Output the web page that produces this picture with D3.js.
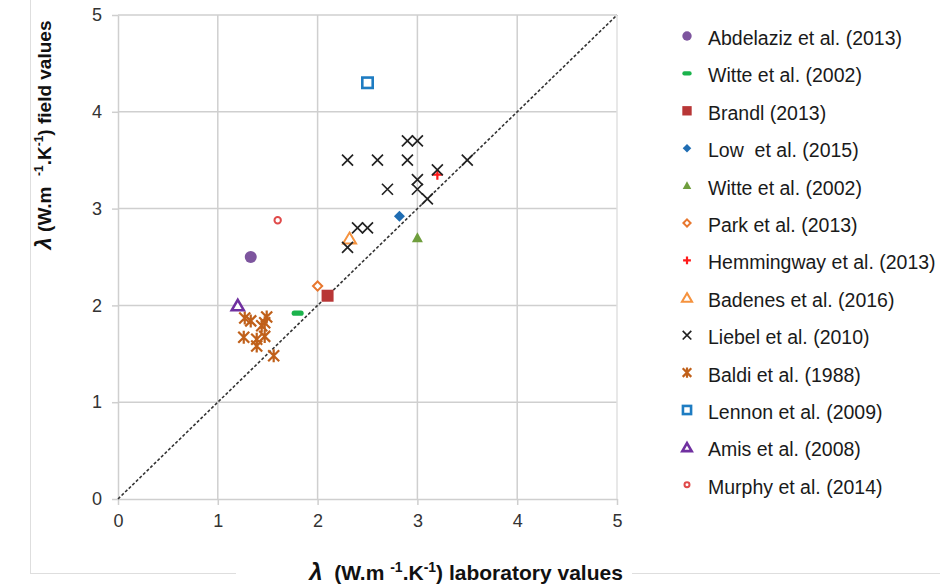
<!DOCTYPE html>
<html>
<head>
<meta charset="utf-8">
<script src="https://cdn.jsdelivr.net/npm/d3@7"></script>
<style>
  body { margin: 0; background: #fff; }
  text { font-family: "Liberation Sans", Arial, sans-serif; }
</style>
</head>
<body>
<div id="chart"></div>
<script>
// study names, in legend order
const seriesNames = [
    "Abdelaziz et al. (2013)", "Witte et al. (2002)", "Brandl (2013)", "Low  et al. (2015)",
    "Witte et al. (2002)", "Park et al. (2013)", "Hemmingway et al. (2013)", "Badenes et al. (2016)",
    "Liebel et al. (2010)", "Baldi et al. (1988)", "Lennon et al. (2009)", "Amis et al. (2008)",
    "Murphy et al. (2014)"
];

// [laboratory, field] pairs
const abdelaziz = [[1.33, 2.5]];
const witteA = [[1.8, 1.92]];
const brandl = [[2.1, 2.1]];
const low = [[2.82, 2.92]];
const witteB = [[3.0, 2.7]];
const park = [[2.0, 2.2]];
const hemmingway = [[3.2, 3.35]];
const badenes = [[2.32, 2.69]];
const liebel = [[2.3, 3.5], [2.6, 3.5], [2.9, 3.5], [3.5, 3.5], [2.9, 3.7], [3.0, 3.7], [3.2, 3.4],
    [3.0, 3.3], [3.0, 3.2], [2.7, 3.2], [3.1, 3.1], [2.4, 2.8], [2.5, 2.8], [2.3, 2.6]];
const baldi = [[1.27, 1.87], [1.33, 1.84], [1.49, 1.88], [1.44, 1.79], [1.47, 1.82], [1.26, 1.67],
    [1.39, 1.65], [1.47, 1.68], [1.39, 1.58], [1.56, 1.48]];
const lennon = [[2.5, 4.3]];
const amis = [[1.2, 2.0]];
const murphy = [[1.6, 2.88]];

const xTicks = [0, 1, 2, 3, 4, 5];
const yTicks = [0, 1, 2, 3, 4, 5];

const seriesData = [abdelaziz, witteA, brandl, low, witteB, park, hemmingway, badenes,
    liebel, baldi, lennon, amis, murphy];
const markerTypes = ["circle", "dash", "square", "diamond", "triangle", "diamondOpen", "plus",
    "triangleOpen", "x", "asterisk", "squareOpen", "triangleOpenThick", "circleOpen"];
const markerColors = ["#7d559e", "#1bb34c", "#b83636", "#1f6db3", "#6f9e3d", "#e8772e", "#ff1a1a",
    "#f5923e", "#222222", "#c0601a", "#1e7cc2", "#7030a0", "#e04a4a"];

const width = 940, height = 586;
const svg = d3.select("#chart").append("svg")
    .attr("width", width)
    .attr("height", height);

// faint frame left over from the screenshot
svg.append("line").attr("x1", 30.5).attr("x2", 30.5).attr("y1", 0).attr("y2", 574)
    .attr("stroke", "#dedede");
svg.append("line").attr("x1", 30.5).attr("x2", width).attr("y1", 573.5).attr("y2", 573.5)
    .attr("stroke", "#dedede");
svg.append("rect").attr("x", 236).attr("y", 556).attr("width", 396).attr("height", 30)
    .attr("fill", "#fff");

const x = d3.scaleLinear().domain([0, 5]).range([118, 617]);
const y = d3.scaleLinear().domain([0, 5]).range([499, 15]);

const gridColor = "#cfcfcf";

// grid
svg.append("g").selectAll("line")
    .data(yTicks.slice(1))
    .enter().append("line")
    .attr("x1", x(0)).attr("x2", x(5))
    .attr("y1", d => y(d)).attr("y2", d => y(d))
    .attr("stroke", gridColor).attr("stroke-width", 1.5);
svg.append("g").selectAll("line")
    .data(xTicks.slice(1))
    .enter().append("line")
    .attr("x1", d => x(d)).attr("x2", d => x(d))
    .attr("y1", y(0)).attr("y2", y(5))
    .attr("stroke", d => d === 5 ? "#e0e0e0" : gridColor).attr("stroke-width", 1.5);

// axes
const xAxis = svg.append("g")
    .attr("transform", `translate(0,${y(0)})`)
    .call(d3.axisBottom(x).tickValues(xTicks).tickFormat(d3.format("d"))
        .tickSize(6).tickSizeOuter(0).tickPadding(9));
const yAxis = svg.append("g")
    .attr("transform", `translate(${x(0)},0)`)
    .call(d3.axisLeft(y).tickValues(yTicks).tickFormat(d3.format("d"))
        .tickSize(6).tickSizeOuter(0).tickPadding(10));

[xAxis, yAxis].forEach(a => {
    a.select(".domain").attr("stroke", gridColor).attr("stroke-width", 1.5);
    a.selectAll(".tick line").attr("stroke", gridColor).attr("stroke-width", 1.5);
    a.selectAll(".tick text")
        .style("font-family", "'Liberation Sans', Arial, sans-serif")
        .style("font-size", "18px")
        .attr("fill", "#333");
});

// 1:1 line
svg.append("line")
    .attr("x1", x(0)).attr("y1", y(0))
    .attr("x2", x(5)).attr("y2", y(5))
    .attr("stroke", "#333")
    .attr("stroke-width", 1.6)
    .attr("stroke-dasharray", "3,2");

function drawMarker(g, type, color, s) {
    switch (type) {
        case "circle":
            g.append("circle").attr("r", 6 * s).attr("fill", color);
            break;
        case "dash":
            g.append("rect").attr("x", -6 * s).attr("y", -2.6 * s).attr("width", 12 * s)
                .attr("height", 5.2 * s).attr("rx", 2.6 * s).attr("fill", color);
            break;
        case "square":
            g.append("rect").attr("x", -6 * s).attr("y", -6 * s).attr("width", 12 * s)
                .attr("height", 12 * s).attr("fill", color);
            break;
        case "diamond":
            g.append("path").attr("d", `M0,${-5.5 * s}L${5.5 * s},0L0,${5.5 * s}L${-5.5 * s},0Z`)
                .attr("fill", color);
            break;
        case "triangle":
            g.append("path").attr("d", `M0,${-5.5 * s}L${5.5 * s},${4.5 * s}L${-5.5 * s},${4.5 * s}Z`)
                .attr("fill", color);
            break;
        case "diamondOpen":
            g.append("path").attr("d", `M0,${-4.6 * s}L${4.6 * s},0L0,${4.6 * s}L${-4.6 * s},0Z`)
                .attr("fill", "#fff").attr("stroke", color).attr("stroke-width", 2);
            break;
        case "plus":
            g.append("path").attr("d", `M${-5 * s},0H${5 * s}M0,${-5 * s}V${5 * s}`)
                .attr("stroke", color).attr("stroke-width", 2.2);
            break;
        case "triangleOpen":
            g.append("path").attr("d", `M0,${-6 * s}L${6.5 * s},${5 * s}L${-6.5 * s},${5 * s}Z`)
                .attr("fill", "#fff").attr("stroke", color).attr("stroke-width", 2);
            break;
        case "triangleOpenThick":
            g.append("path").attr("d", `M0,${-5.5 * s}L${6 * s},${4.8 * s}L${-6 * s},${4.8 * s}Z`)
                .attr("fill", "#fff").attr("stroke", color).attr("stroke-width", 2.6);
            break;
        case "x":
            g.append("path").attr("d", `M${-5.5 * s},${-5.5 * s}L${5.5 * s},${5.5 * s}M${5.5 * s},${-5.5 * s}L${-5.5 * s},${5.5 * s}`)
                .attr("stroke", color).attr("stroke-width", 1.7);
            break;
        case "asterisk":
            g.append("path").attr("d", `M${-5.5 * s},${-5.5 * s}L${5.5 * s},${5.5 * s}M${5.5 * s},${-5.5 * s}L${-5.5 * s},${5.5 * s}M0,${-6.5 * s}V${6.5 * s}`)
                .attr("stroke", color).attr("stroke-width", 2.2);
            break;
        case "squareOpen":
            g.append("rect").attr("x", -5.2 * s).attr("y", -5.2 * s).attr("width", 10.4 * s)
                .attr("height", 10.4 * s).attr("fill", "#fff").attr("stroke", color).attr("stroke-width", 2.6);
            break;
        case "circleOpen":
            g.append("circle").attr("r", 3.2 * s).attr("fill", "#fff")
                .attr("stroke", color).attr("stroke-width", 2);
            break;
    }
}

// points
seriesData.forEach((pts, i) => {
    const g = svg.append("g");
    pts.forEach(p => {
        const m = g.append("g").attr("transform", `translate(${x(p[0])},${y(p[1])})`);
        drawMarker(m, markerTypes[i], markerColors[i], 1);
    });
});

// legend
const legend = svg.append("g");
seriesNames.forEach((name, i) => {
    const ly = 38 + i * 37.4;
    const m = legend.append("g").attr("transform", `translate(687,${ly - 2})`);
    drawMarker(m, markerTypes[i], markerColors[i], 0.78);
    legend.append("text")
        .attr("x", 708)
        .attr("y", ly + 7)
        .attr("fill", "#1a1a1a")
        .style("font-size", "19.5px")
        .style("white-space", "pre")
        .attr("xml:space", "preserve")
        .text(name);
});

// axis titles
const xt = svg.append("text")
    .attr("x", 466)
    .attr("y", 580)
    .attr("text-anchor", "middle")
    .style("font-size", "21px")
    .style("font-weight", "bold")
    .attr("fill", "#111")
    .attr("xml:space", "preserve");
xt.append("tspan").style("font-style", "italic").style("font-size", "24px").text("λ");
xt.append("tspan").text("  (W.m ");
xt.append("tspan").attr("dy", -8).style("font-size", "14px").text("-1");
xt.append("tspan").attr("dy", 8).text(".K");
xt.append("tspan").attr("dy", -8).style("font-size", "14px").text("-1");
xt.append("tspan").attr("dy", 8).text(") laboratory values");

const yt = svg.append("text")
    .attr("transform", "translate(51,135) rotate(-90)")
    .attr("text-anchor", "middle")
    .style("font-size", "19px")
    .style("font-weight", "bold")
    .attr("fill", "#111")
    .attr("xml:space", "preserve");
yt.append("tspan").style("font-style", "italic").style("font-size", "22px").text("λ");
yt.append("tspan").text(" (W.m  ");
yt.append("tspan").attr("dy", -8).style("font-size", "12px").text("-1");
yt.append("tspan").attr("dy", 8).text(".K");
yt.append("tspan").attr("dy", -8).style("font-size", "12px").text("-1");
yt.append("tspan").attr("dy", 8).text(") field values");
</script>
</body>
</html>
